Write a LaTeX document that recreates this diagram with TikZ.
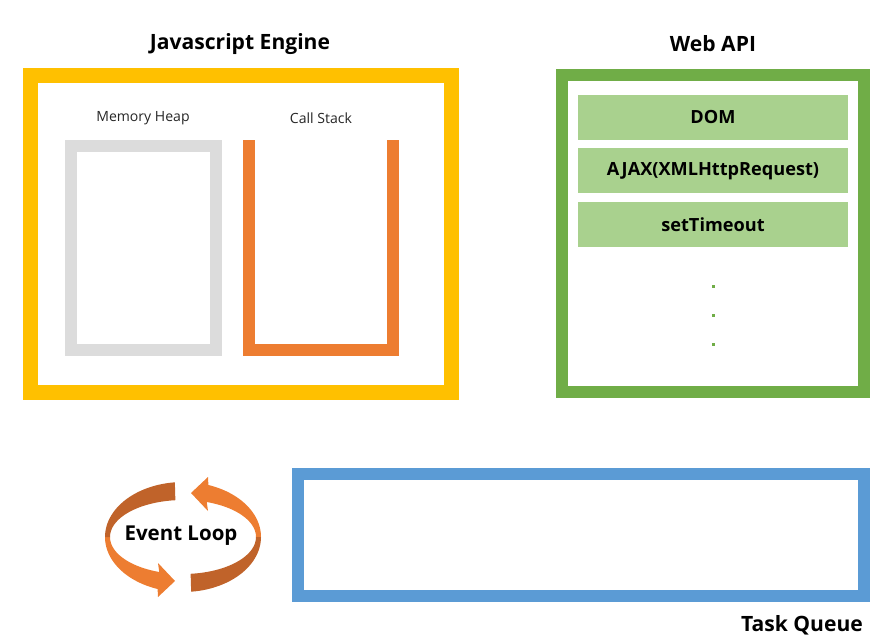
\documentclass[tikz,border=0pt]{standalone}
\usepackage{fontspec}
\setmainfont{Open Sans}
\usetikzlibrary{positioning}
\definecolor{engineyellow}{HTML}{FFC000}
\definecolor{stackorange}{HTML}{ED7D31}
\definecolor{loopdark}{HTML}{C0632A}
\definecolor{heapgray}{HTML}{DCDCDC}
\definecolor{apigreen}{HTML}{70AD47}
\definecolor{itemgreen}{HTML}{A9D18E}
\definecolor{queueblue}{HTML}{5B9BD5}

\begin{document}
\begin{tikzpicture}[x=0.03cm,y=-0.03cm,
  title/.style={font=\fontsize{18}{20}\selectfont\bfseries},
  small_label/.style={font=\fontsize{12}{14}\selectfont,text=black!85},
  frame/.style={line width=0.36cm},
  api_item/.style={rectangle,fill=itemgreen,minimum width=8.1cm,minimum height=1.35cm,
    inner sep=0pt,font=\fontsize{15.5}{17}\selectfont\bfseries},
  node distance=0.24cm]
  \useasboundingbox (0,0) rectangle (894,642);
  % Javascript engine
  \node[title] (engine) at (240,44) {Javascript Engine};
  \draw[line width=0.45cm,draw=engineyellow] (30.5,75.5) rectangle (451.5,392.5);
  \node[small_label] (heap) at (143,118) {Memory Heap};
  \node[small_label] (stack) at (321,118) {Call Stack};
  \draw[frame,draw=heapgray] (71,146) rectangle (216,350);
  \draw[frame,draw=stackorange] (249,140) -- (249,350) -- (393,350) -- (393,140);
  % Web API
  \node[title] (webapi) at (713,44) {Web API};
  \draw[frame,draw=apigreen] (562,75) rectangle (864,392);
  \node[api_item] (dom) at (713,117.5) {DOM};
  \node[api_item,below=of dom] (ajax) {AJAX(XMLHttpRequest)};
  \node[api_item,below=of ajax] (timeout) {setTimeout};
  \foreach \y [count=\i] in {286,315,344}
    \fill[apigreen] (711.5,\y-1.5) rectangle (714.5,\y+1.5);
  % Event loop
  \fill[stackorange] plot[domain=180:109,samples=30] ({183+78*cos(\x)},{537+55*sin(\x)})
    -- (158,597) -- (175,581) -- (158,563)
    -- plot[domain=109:180,samples=30] ({183+73*cos(\x)},{537+37*sin(\x)}) -- cycle;
  \fill[loopdark] plot[domain=264:180,samples=30] ({183+78*cos(\x)},{537+55*sin(\x)})
    -- plot[domain=180:264,samples=30] ({183+73*cos(\x)},{537+37*sin(\x)}) -- cycle;
  \fill[stackorange] plot[domain=0:-71,samples=30] ({183+78*cos(\x)},{537+55*sin(\x)})
    -- (208,477) -- (191,493) -- (208,511)
    -- plot[domain=-71:0,samples=30] ({183+73*cos(\x)},{537+37*sin(\x)}) -- cycle;
  \fill[loopdark] plot[domain=84:0,samples=30] ({183+78*cos(\x)},{537+55*sin(\x)})
    -- plot[domain=0:84,samples=30] ({183+73*cos(\x)},{537+37*sin(\x)}) -- cycle;
  \node[font=\fontsize{17.5}{20}\selectfont\bfseries] (eventloop) at (181,536) {Event Loop};
  % Task queue
  \draw[frame,draw=queueblue] (298,474) rectangle (864,596);
  \node[title] (queue) at (802,625) {Task Queue};
\end{tikzpicture}
\end{document}
